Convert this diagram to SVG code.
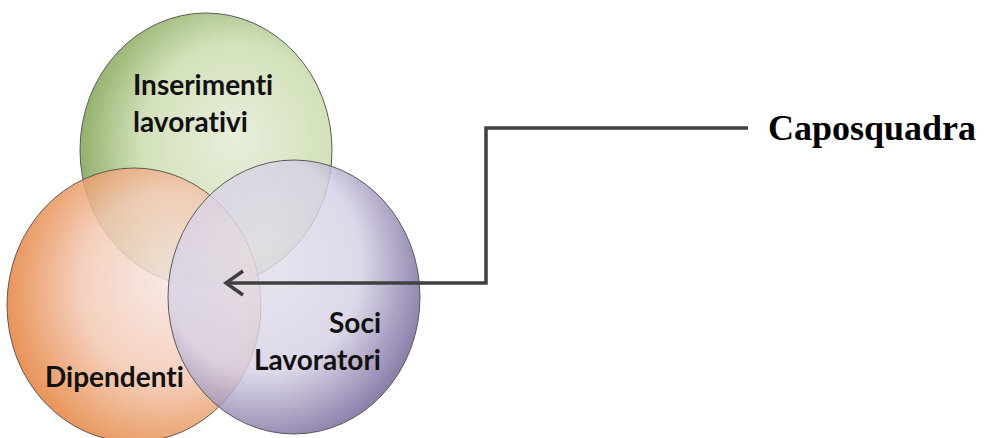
<svg xmlns="http://www.w3.org/2000/svg" width="991" height="438" viewBox="0 0 991 438">
<style>
.c{stroke:#5a5a5a;stroke-width:1}
.lbl{font-family:Lato,"Open Sans",sans-serif;font-weight:bold;font-size:28px;fill:#111;font-variant-ligatures:none}
.conn{fill:none;stroke:#404040;stroke-width:3.5}
</style>
<defs>
<radialGradient id="gG" cx="0.62" cy="0.5" r="0.62" fx="0.62" fy="0.45">
<stop offset="0" stop-color="#e7eedb"/><stop offset="0.6" stop-color="#d4e2bb"/><stop offset="1" stop-color="#93b16c"/>
</radialGradient>
<radialGradient id="gO" cx="0.62" cy="0.45" r="0.62" fx="0.65" fy="0.4">
<stop offset="0" stop-color="#f7e6e3"/><stop offset="0.55" stop-color="#f3c9b3"/><stop offset="1" stop-color="#e5823c"/>
</radialGradient>
<radialGradient id="gP" cx="0.38" cy="0.4" r="0.66" fx="0.35" fy="0.35">
<stop offset="0" stop-color="#e3dfeb"/><stop offset="0.6" stop-color="#d6d0e4"/><stop offset="1" stop-color="#6f6096"/>
</radialGradient>
</defs>
<g id="inserimenti">
<ellipse class="c" cx="206" cy="150" rx="126" ry="137" fill="url(#gG)"/>
</g>
<g id="dipendenti">
<ellipse class="c" cx="134" cy="305" rx="127" ry="137" fill="url(#gO)" fill-opacity="0.85"/>
</g>
<g id="soci">
<ellipse class="c" cx="294" cy="297" rx="126" ry="137" fill="url(#gP)" fill-opacity="0.82"/>
</g>
<g id="labels">
<text class="lbl" x="133" y="95">Inserimenti</text>
<text class="lbl" x="133" y="132">lavorativi</text>
<text class="lbl" x="381" y="333" text-anchor="end">Soci</text>
<text class="lbl" x="381" y="370" text-anchor="end">Lavoratori</text>
<text class="lbl" x="45" y="387">Dipendenti</text>
</g>
<g id="connectors">
<polyline class="conn" points="748,128 486,128 486,283 226,283"/>
<polyline class="conn" points="243,271 226,283 243,295"/>
</g>
<g id="caposquadra">
<text x="768" y="140" font-family="'Liberation Serif',serif" font-weight="bold" font-size="36" fill="#000">Caposquadra</text>
</g>
</svg>
